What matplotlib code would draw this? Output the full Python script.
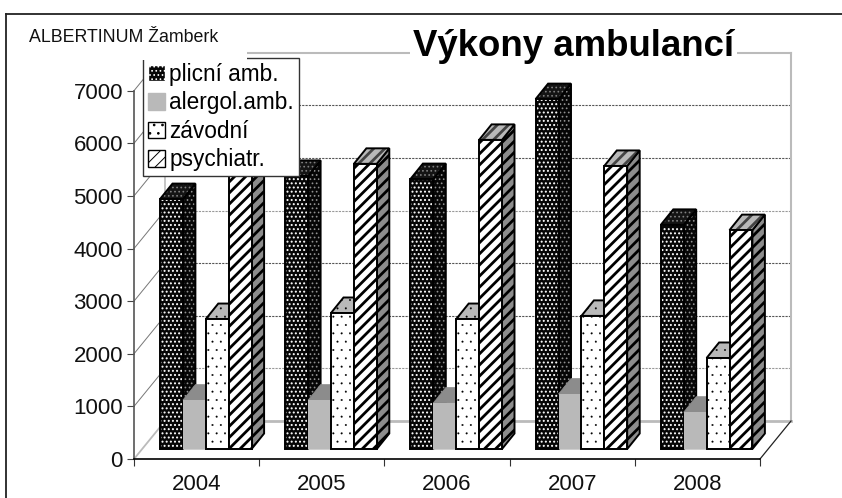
import numpy as np
import matplotlib
matplotlib.use("Agg")
import matplotlib.pyplot as plt
from matplotlib.patches import Polygon, Patch, Rectangle
from matplotlib.lines import Line2D

years = ["2004", "2005", "2006", "2007", "2008"]
series_names = ["plicní amb.", "alergol.amb.", "závodní", "psychiatr."]
plicni = [4750, 5190, 5130, 6650, 4260]
alergol = [930, 930, 875, 1045, 700]
zavodni = [2470, 2585, 2470, 2530, 1730]
psychiatr = [5400, 5420, 5875, 5380, 4160]
y_ticks = [0, 1000, 2000, 3000, 4000, 5000, 6000, 7000]

W, H = 842, 498
plt.rcParams['font.family'] = ['Liberation Sans', 'DejaVu Sans']

fig = plt.figure(figsize=(W / 100, H / 100), dpi=100)
ax = fig.add_axes([134 / W, (H - 459) / H, 626 / W, (459 - 90.7) / H])
ax.set_xlim(0, 5)
ax.set_ylim(0, 7000)
ax.patch.set_visible(False)

# pixel -> data sizes
px_x = 5 / 626
px_y = 7000 / (459 - 90.7)

def fx(px):
    return px / W

def fy(px):
    return (H - px) / H

# outer frame
for xs, ys in [((6, 6), (14, H)), ((6, W), (14, 14))]:
    fig.add_artist(Line2D([fx(v) for v in xs], [fy(v) for v in ys], color="#222222", lw=1.3))

ax.spines["top"].set_visible(False)
ax.spines["right"].set_visible(False)
ax.spines["left"].set_color("#555555")
ax.spines["left"].set_linewidth(1.2)
ax.spines["bottom"].set_linewidth(1.2)
ax.set_xticks(range(6))
ax.set_xticklabels([])
ax.set_xticks(np.arange(5) + 0.5, years, minor=True)
ax.tick_params(axis="x", which="major", length=5, color="#333333")
ax.tick_params(axis="x", which="minor", length=0, labelsize=16, pad=11, labelcolor="#111111")
ax.set_yticks(y_ticks)
ax.tick_params(axis="y", length=5, labelsize=16, pad=3, labelcolor="#111111", color="#444444")

# walls
wall_dx = 31 * px_x
wall_dy = 38 * px_y
for v in y_ticks[1:-1]:
    light = v in (1000, 4000)
    col = "#999999" if light else "#555555"
    ax.plot([wall_dx, 5 + wall_dx], [v + wall_dy, v + wall_dy], color=col, lw=0.8,
            ls=(0, (2, 1)), clip_on=False, zorder=1)
for v in y_ticks[1:]:
    ax.plot([0, wall_dx], [v, v + wall_dy], color="#777777", lw=0.7, clip_on=False, zorder=1)
ax.plot([0, wall_dx], [0, wall_dy], color="#bbbbbb", lw=1.3, clip_on=False, zorder=1)
ax.plot([wall_dx, wall_dx], [wall_dy, 7000 + wall_dy], color="#bbbbbb", lw=1.2, clip_on=False, zorder=1)
ax.plot([wall_dx, 5 + wall_dx], [wall_dy, wall_dy], color="#bbbbbb", lw=2, clip_on=False, zorder=1)
ax.plot([5 + wall_dx, 5 + wall_dx], [wall_dy, 7000 + wall_dy], color="#bbbbbb", lw=1.5, clip_on=False, zorder=1)
ax.plot([wall_dx, 5 + wall_dx], [7000 + wall_dy, 7000 + wall_dy], color="#bbbbbb", lw=1.5, clip_on=False, zorder=1)
ax.plot([5, 5 + wall_dx], [0, wall_dy], color="#222222", lw=0.9, clip_on=False, zorder=1)

# bars
bar_w = 22.9 * px_x
start = 26 * px_x
base = 10 * px_y
depth_x = 12.5 * px_x
depth_y = 15.5 * px_y

# (face colour, hatch colour, hatch, hatch line width)
styles = [
    dict(front=("#060606", "#ffffff", "....", 0.9), side=("#060606", "#909090", "....", 0.7),
         top=("#141414", "#808080", "....", 0.7), line="#000000"),
    dict(front=("#b9b9b9", None, None, 1), side=("#8c8c8c", None, None, 1),
         top=("#8c8c8c", None, None, 1), line=None),
    dict(front=("#ffffff", "#000000", "..", 0.2), side=("#8c8c8c", "#000000", "..", 0.2),
         top=("#b9b9b9", "#000000", "..", 0.2), line="#000000"),
    dict(front=("#ffffff", "#000000", "///", 2.0), side=("#8c8c8c", "#000000", "///", 2.0),
         top=("#b9b9b9", "#444444", "///", 2.0), line="#000000"),
]

def face(points, spec, line, z):
    fc, hc, hatch, hlw = spec
    plt.rcParams['hatch.linewidth'] = hlw
    ax.add_patch(Polygon(points, closed=True, facecolor=fc, edgecolor=hc if hc else fc,
                         hatch=hatch, lw=0, clip_on=False, zorder=z))
    ax.add_patch(Polygon(points, closed=True, fill=False, edgecolor=line if line else fc,
                         lw=1.4 if line else 0.5, clip_on=False, zorder=z + 0.01))

values = [plicni, alergol, zavodni, psychiatr]
z = 3.0
for g in range(len(years)):
    for s, vals in enumerate(values):
        x0 = g + start + s * bar_w
        x1 = x0 + bar_w
        y0 = base
        y1 = base + vals[g]
        st = styles[s]
        face([(x1, y0), (x1 + depth_x, y0 + depth_y), (x1 + depth_x, y1 + depth_y), (x1, y1)],
             st["side"], st["line"], z)
        face([(x0, y1), (x1, y1), (x1 + depth_x, y1 + depth_y), (x0 + depth_x, y1 + depth_y)],
             st["top"], st["line"], z + 0.02)
        face([(x0, y0), (x1, y0), (x1, y1), (x0, y1)], st["front"], st["line"], z + 0.04)
        z += 0.1

# legend
plt.rcParams['hatch.linewidth'] = 0.7
handles = [
    Patch(facecolor="#060606", edgecolor="#ffffff", hatch="...."),
    Patch(facecolor="#b9b9b9", edgecolor="#b9b9b9"),
    Patch(facecolor="#ffffff", edgecolor="#000000", hatch=".."),
    Patch(facecolor="#ffffff", edgecolor="#000000", hatch="///"),
]
leg = fig.legend(handles, series_names, loc="upper left", bbox_to_anchor=(fx(143), fy(58)),
                 fontsize=16.3, fancybox=False, framealpha=1, edgecolor="#333333",
                 handlelength=0.75, handleheight=0.75, handletextpad=0.2, labelspacing=0.24,
                 borderpad=0.22, borderaxespad=0)
leg.set_zorder(20)
leg.get_frame().set_linewidth(1.0)

# white boxes for the texts
fig.add_artist(Rectangle((fx(8), fy(60)), fx(239), fy(16) - fy(60), transform=fig.transFigure,
                         facecolor="white", edgecolor="none", zorder=21))
fig.text(fx(29), fy(38), "ALBERTINUM Žamberk", fontsize=12.8, color="#111111", va="center", ha="left", zorder=22)
fig.text(fx(573.5), fy(47), "Výkony ambulancí", fontsize=26.4, fontweight="bold", color="#000000",
         va="center", ha="center", zorder=22,
         bbox=dict(facecolor="white", edgecolor="none", pad=2))

fig.savefig("out.png", dpi=100)
